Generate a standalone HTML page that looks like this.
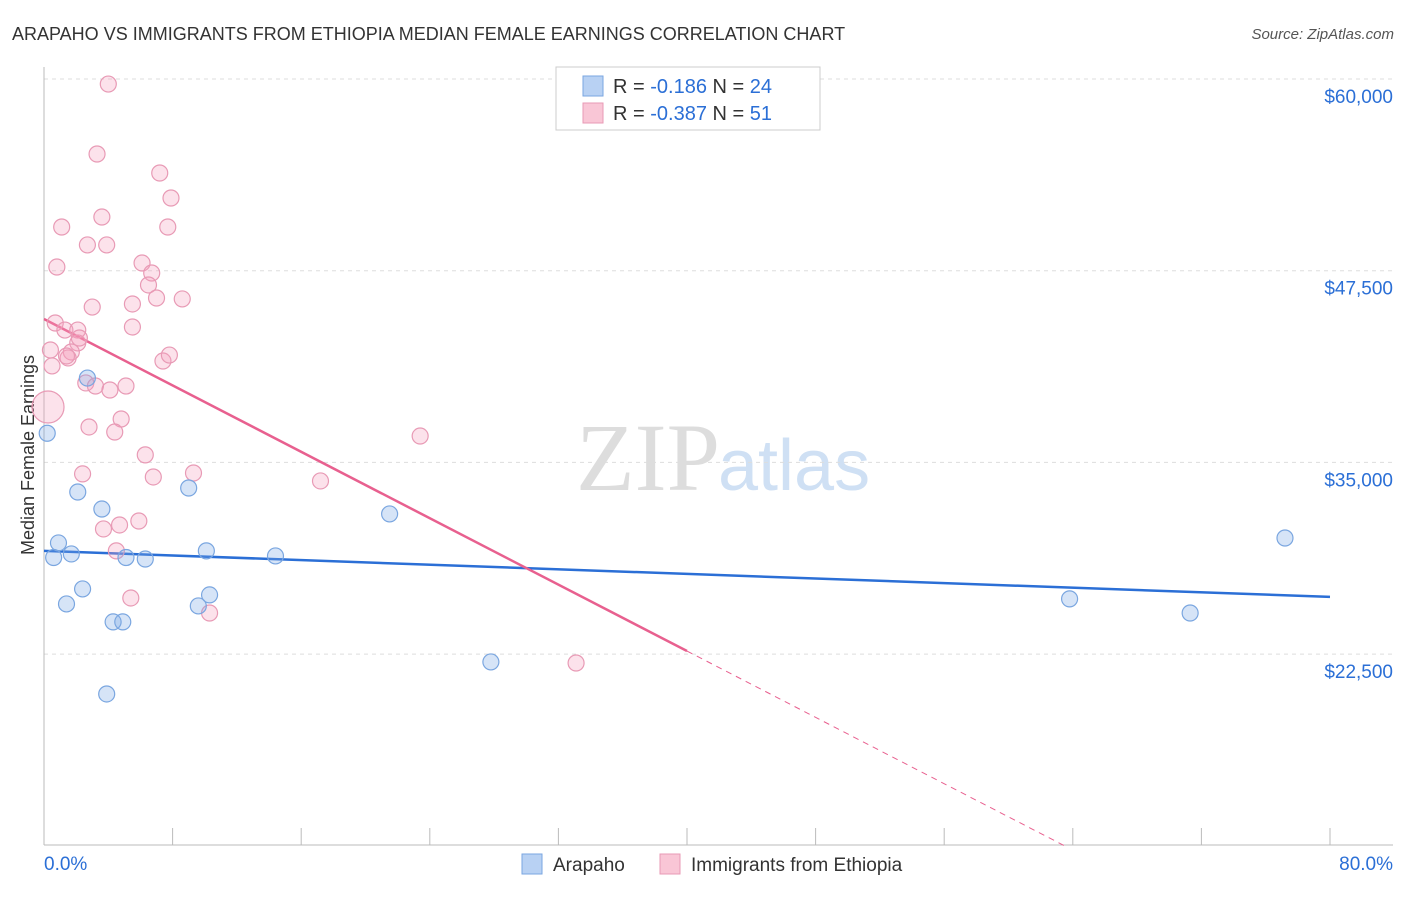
<!DOCTYPE html>
<html><head><meta charset="utf-8"><style>
body{margin:0;background:#fff;font-family:"Liberation Sans",sans-serif}
</style></head><body>
<svg id="c" width="1406" height="892" xmlns="http://www.w3.org/2000/svg">
<text x="12" y="40" font-size="18" fill="#333">ARAPAHO VS IMMIGRANTS FROM ETHIOPIA MEDIAN FEMALE EARNINGS CORRELATION CHART</text>
<text x="1394" y="39" font-size="15" fill="#555" text-anchor="end" font-style="italic">Source: ZipAtlas.com</text>
<text x="720" y="490" font-size="96" fill="#ddd" text-anchor="end" font-family="Liberation Serif,serif">ZIP</text>
<text x="718" y="490" font-size="72" fill="#cfe0f4">atlas</text>
<text transform="translate(34,455) rotate(-90)" font-size="18" fill="#333" text-anchor="middle">Median Female Earnings</text>
<g id="grid"></g><g id="ticks"></g><g id="lines"></g><g id="pts"></g>
<g>
<rect x="556" y="67" width="264" height="63" fill="#fff" stroke="#ccc"/>
<rect x="583" y="76" width="20" height="20" fill="#b8d1f3" stroke="#7aa6e0"/>
<rect x="583" y="103" width="20" height="20" fill="#f9c6d6" stroke="#e89ab5"/>
<text x="613" y="93" font-size="20" fill="#333">R = <tspan fill="#2b6fd6">-0.186</tspan>    N = <tspan fill="#2b6fd6">24</tspan></text>
<text x="613" y="120" font-size="20" fill="#333">R = <tspan fill="#2b6fd6">-0.387</tspan>    N =  <tspan fill="#2b6fd6">51</tspan></text>
</g>
<g>
<rect x="522" y="854" width="20" height="20" fill="#b8d1f3" stroke="#7aa6e0"/>
<text x="553" y="871" font-size="19" fill="#333">Arapaho</text>
<rect x="660" y="854" width="20" height="20" fill="#f9c6d6" stroke="#e89ab5"/>
<text x="691" y="871" font-size="19" fill="#333">Immigrants from Ethiopia</text>
</g>
</svg>
<script>
const yTicks=[60000,47500,35000,22500];
const yTickLabels=["$60,000","$47,500","$35,000","$22,500"];
const xTicks=[0,8,16,24,32,40,48,56,64,72,80];
const blueX=[0.2,0.6,0.9,1.4,1.7,2.1,2.4,2.7,3.6,4.3,4.9,5.1,3.9,6.3,9.0,9.6,10.1,10.3,14.4,21.5,27.8,63.8,71.3,77.2];
const blueY=[36900,28800,29750,25770,29030,33070,26750,40500,31960,24600,24600,28800,19900,28700,33330,25640,29230,26360,28900,31640,21990,26100,25180,30070];
const pinkX=[4.0,3.3,7.2,7.9,1.1,3.6,7.7,2.7,3.9,0.8,6.1,6.7,6.5,7.0,8.6,3.0,5.5,5.5,0.7,1.3,2.1,2.1,0.4,1.7,1.5,0.5,7.4,7.8,2.6,3.2,4.1,5.1,0.25,4.8,2.8,4.4,6.3,23.4,2.4,6.8,9.3,17.2,5.9,3.7,4.7,4.5,5.4,10.3,33.1,1.4,2.2];
const pinkY=[59670,55110,53870,52240,50350,51000,50350,49180,49180,47740,48000,47350,46570,45720,45660,45130,45330,43830,44090,43630,43630,42790,42330,42200,41810,41290,41610,42000,40180,39980,39720,39980,38610,37830,37310,36980,35490,36720,34250,34050,34310,33790,31180,30660,30920,29230,26160,25180,21920,41940,43110];
const blueTrend=[0,29230,80,26230];
const pinkTrend=[0,44350,40,22700,63.6,9940];
const NS="http://www.w3.org/2000/svg";
function X(v){return 44+v/80*1286;}
function Y(v){return 79+(60000-v)*191.7/12500;}
function mk(t,a,p){const e=document.createElementNS(NS,t);for(const k in a)e.setAttribute(k,a[k]);document.getElementById(p).appendChild(e);return e;}
yTicks.forEach((t,i)=>{
 const l=mk('line',{x1:44,x2:1393,y1:Y(t),y2:Y(t),stroke:'#ddd','stroke-dasharray':'4,4'},'grid');
 
 
 const tx=mk('text',{x:1393,y:Y(t)+24,'font-size':19,fill:'#2b6fd6','text-anchor':'end'},'ticks');
 tx.textContent=yTickLabels[i];
 
 
});
const ax=mk('line',{x1:44,x2:1393,y1:845,y2:845,stroke:'#bbb'},'grid');


const ay=mk('line',{x1:44,x2:44,y1:67,y2:845,stroke:'#bbb'},'grid');


xTicks.forEach(t=>{const l=mk('line',{x1:X(t),x2:X(t),y1:828,y2:845,stroke:'#bbb'},'ticks');
 
 });
const t0=mk('text',{x:44,y:870,'font-size':19,fill:'#2b6fd6'},'ticks');t0.textContent='0.0%';


const t1=mk('text',{x:1393,y:870,'font-size':19,fill:'#2b6fd6','text-anchor':'end'},'ticks');t1.textContent='80.0%';


const bl=mk('line',{x1:X(blueTrend[0]),y1:Y(blueTrend[1]),x2:X(blueTrend[2]),y2:Y(blueTrend[3]),stroke:'#2b6fd6','stroke-width':2.5},'lines');


const pl=mk('line',{x1:X(pinkTrend[0]),y1:Y(pinkTrend[1]),x2:X(pinkTrend[2]),y2:Y(pinkTrend[3]),stroke:'#e8608f','stroke-width':2.5},'lines');


const pd=mk('line',{x1:X(pinkTrend[2]),y1:Y(pinkTrend[3]),x2:X(pinkTrend[4]),y2:Y(pinkTrend[5]),stroke:'#e8608f','stroke-width':1,'stroke-dasharray':'6,5'},'lines');


pinkX.forEach((x,i)=>{const c=mk('circle',{cx:X(x),cy:Y(pinkY[i]),r:(i==32?16:8),fill:'rgba(244,160,190,0.3)',stroke:'#e89ab5','stroke-width':1.2},'pts');
 
 });
blueX.forEach((x,i)=>{const c=mk('circle',{cx:X(x),cy:Y(blueY[i]),r:8,fill:'rgba(120,165,230,0.3)',stroke:'#7aa6e0','stroke-width':1.2},'pts');
 
 });
</script>
</body></html>
